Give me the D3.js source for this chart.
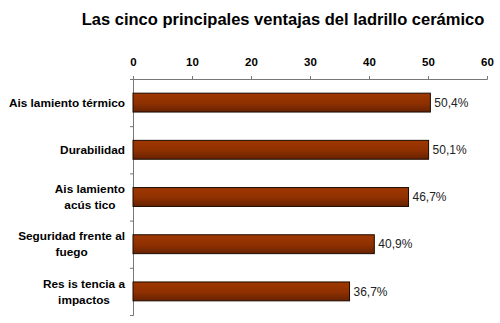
<!DOCTYPE html>
<html><head><meta charset="utf-8">
<script src="https://cdn.jsdelivr.net/npm/d3@7"></script>
<style>body{margin:0;background:#fff}svg{display:block}</style>
</head><body>
<script>
const categories = [["Ais lamiento térmico"],["Durabilidad"],["Ais lamiento","acús tico"],["Seguridad frente al","fuego"],["Res is tencia a","impactos"]];
const values = [50.4, 50.1, 46.7, 40.9, 36.7];
const valueLabels = ["50,4%","50,1%","46,7%","40,9%","36,7%"];
const ticks = [0,10,20,30,40,50,60];
const title = "Las cinco principales ventajas del ladrillo cerámico";

const W=500,H=323;
const svg=d3.select("body").append("svg").attr("width",W).attr("height",H);
const defs=svg.append("defs");
const g=defs.append("linearGradient").attr("id","bg").attr("x1",0).attr("y1",0).attr("x2",0).attr("y2",1);
g.append("stop").attr("offset","0%").attr("stop-color","#a03800");
g.append("stop").attr("offset","55%").attr("stop-color","#8e3000");
g.append("stop").attr("offset","100%").attr("stop-color","#662200");

const x=d3.scaleLinear().domain([0,60]).range([133,487]);
const y=d3.scaleBand().domain(d3.range(values.length)).range([79,315]).paddingInner(0.6).paddingOuter(0.3);
const yb=d3.scaleBand().domain(d3.range(values.length)).range([79,315]);

svg.append("text").attr("x",283).attr("y",25).attr("text-anchor","middle")
 .attr("font-family","Liberation Sans, Arial").attr("font-weight","bold").attr("font-size",16.5)
 .attr("fill","#000").text(title);

const ax=svg.append("g").attr("transform","translate(0,79)")
 .call(d3.axisTop(x).tickValues(ticks).tickSize(3).tickPadding(10));
ax.select(".domain").attr("stroke","#777");
ax.selectAll(".tick line").attr("stroke","#777");
ax.selectAll("text").attr("font-family","Liberation Sans, Arial").attr("font-weight","bold").attr("font-size",11.5).attr("fill","#000");

const ay=svg.append("g").attr("transform","translate(133,0)")
 .call(d3.axisLeft(d3.scaleLinear().domain([0,5]).range([79,315])).ticks(5).tickSize(3).tickFormat(""));
ay.select(".domain").attr("stroke","#777");
ay.selectAll(".tick line").attr("stroke","#777");

svg.selectAll("rect.bar").data(values).enter().append("rect").attr("class","bar")
 .attr("x",x(0)).attr("y",(d,i)=>y(i)).attr("width",d=>x(d)-x(0)).attr("height",y.bandwidth())
 .attr("fill","url(#bg)").attr("stroke","#1a0a00").attr("stroke-width",1);

svg.selectAll("text.val").data(values).enter().append("text").attr("class","val")
 .attr("x",d=>x(d)+4).attr("y",(d,i)=>y(i)+y.bandwidth()/2).attr("dy","0.35em")
 .attr("font-family","Liberation Sans, Arial").attr("font-size",12).attr("fill","#222")
 .text((d,i)=>valueLabels[i]);

const right=125;
categories.forEach((lines,i)=>{
  const cy=yb(i)+yb.bandwidth()/2;
  const lh=16;
  const t=svg.append("text").attr("text-anchor","middle")
   .attr("font-family","Liberation Sans, Arial").attr("font-weight","bold").attr("font-size",11.8).attr("fill","#000");
  const spans=lines.map((l,j)=>t.append("tspan").attr("y",cy+(j-(lines.length-1)/2)*lh).attr("dy","0.35em").text(l));
  const maxW=d3.max(spans,s=>s.node().getComputedTextLength());
  spans.forEach(s=>s.attr("x",right-maxW/2));
});
</script>
</body></html>
